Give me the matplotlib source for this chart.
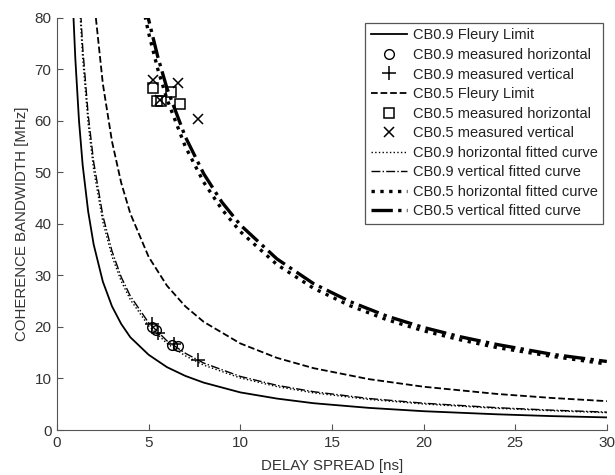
import matplotlib
matplotlib.use("Agg")

import matplotlib.pyplot as plt

plt.rcParams["font.family"] = ["Liberation Sans", "DejaVu Sans"]

# curves (delay spread [ns] -> bandwidth [MHz])
fleury09_x = [0.8, 0.9, 1.0, 1.2, 1.4, 1.7, 2.0, 2.5, 3, 3.5, 4, 5, 6, 7, 8, 10, 12, 14, 17, 20, 24, 27, 30]
fleury09_y = [90, 80, 72, 60, 51.4, 42.4, 36, 28.8, 24, 20.6, 18, 14.6, 12.2, 10.5, 9.2, 7.3, 6.1, 5.2, 4.3, 3.65, 3.05, 2.7, 2.45]

fit09_x = [1.2, 1.4, 1.7, 2.0, 2.5, 3, 3.5, 4, 5, 6, 7, 8, 10, 12, 14, 17, 20, 24, 27, 30]
fit09h_y = [84.2, 72.1, 59.4, 50.5, 40.4, 33.7, 28.9, 25.3, 20.2, 16.8, 14.4, 12.6, 10.1, 8.42, 7.21, 5.94, 5.05, 4.21, 3.74, 3.37]
fit09v_y = [86.7, 74.3, 61.2, 52, 41.6, 34.7, 29.7, 26, 20.8, 17.3, 14.9, 13, 10.4, 8.67, 7.43, 6.12, 5.2, 4.33, 3.85, 3.47]

fleury05_x = [2.0, 2.5, 3, 3.5, 4, 5, 6, 7, 8, 10, 12, 14, 17, 20, 24, 27, 30]
fleury05_y = [84, 67.2, 56, 48, 42, 33.6, 28, 24, 21, 16.8, 14, 12, 9.88, 8.4, 7, 6.22, 5.6]

fit05h_x = [4.6, 5, 5.5, 6, 7, 8, 9, 10, 12, 14, 16, 18, 20, 22, 24, 27, 30]
fit05h_y = [83.7, 77, 70, 64.2, 55, 48.1, 42.8, 38.5, 32.1, 27.5, 24.1, 21.4, 19.25, 17.5, 16.0, 14.3, 12.8]
fit05v_x = [4.8, 5, 5.5, 6, 7, 8, 9, 10, 12, 14, 16, 18, 20, 22, 24, 27, 30]
fit05v_y = [82.9, 79.6, 72.4, 66.3, 56.9, 49.75, 44.2, 39.8, 33.2, 28.4, 24.9, 22.1, 19.9, 18.1, 16.6, 14.7, 13.3]

# measured points
meas09h_x = [5.2, 5.4, 6.25, 6.6]
meas09h_y = [20.0, 19.4, 16.5, 16.3]
meas09v_x = [5.2, 5.5, 6.4, 7.7]
meas09v_y = [20.5, 18.8, 16.6, 13.6]
meas05h_x = [5.25, 5.45, 5.7, 6.2, 6.7]
meas05h_y = [66.4, 63.8, 63.8, 65.6, 63.2]
meas05v_x = [5.25, 5.6, 6.6, 7.7]
meas05v_y = [68.0, 64.0, 67.4, 60.4]

fig = plt.figure(figsize=(6.15, 4.75), dpi=100)
ax = fig.add_axes([0.0927, 0.0947, 0.894, 0.868])

ax.plot(fleury09_x, fleury09_y, "-", color="black", lw=1.3, label="CB0.9 Fleury Limit")
ax.plot(meas09h_x, meas09h_y, "o", mfc="none", mec="black", ms=7, mew=1.0, label="CB0.9 measured horizontal")
ax.plot(meas09v_x, meas09v_y, "+", color="black", ms=10, mew=1.1, label="CB0.9 measured vertical")
ax.plot(fleury05_x, fleury05_y, "--", color="black", lw=1.3, label="CB0.5 Fleury Limit")
ax.plot(meas05h_x, meas05h_y, "s", mfc="none", mec="black", ms=7.5, mew=1.1, label="CB0.5 measured horizontal")
ax.plot(meas05v_x, meas05v_y, "x", color="black", ms=7.5, mew=1.1, label="CB0.5 measured vertical")
ax.plot(fit09_x, fit09h_y, ":", color="black", lw=1.0, label="CB0.9 horizontal fitted curve")
ax.plot(fit09_x, fit09v_y, "-.", color="black", lw=1.0, label="CB0.9 vertical fitted curve")
ax.plot(fit05h_x, fit05h_y, ":", color="black", lw=2.4, label="CB0.5 horizontal fitted curve")
ax.plot(fit05v_x, fit05v_y, "-.", color="black", lw=2.4, label="CB0.5 vertical fitted curve")

ax.set_xlim(0, 30)
ax.set_ylim(0, 80)
ax.set_xticks([0, 5, 10, 15, 20, 25, 30])
ax.set_yticks([0, 10, 20, 30, 40, 50, 60, 70, 80])
ax.spines["top"].set_visible(False)
ax.spines["right"].set_visible(False)
for s in ["left", "bottom"]:
    ax.spines[s].set_color("#555555")
ax.tick_params(direction="in", length=4, colors="#555555", labelcolor="#333333", labelsize=11, pad=4)

ax.set_xlabel("DELAY SPREAD [ns]", fontsize=10.8, color="#333333", labelpad=7)
ax.set_ylabel("COHERENCE BANDWIDTH [MHz]", fontsize=10.8, color="#333333", labelpad=4)

leg = ax.legend(loc="upper right", bbox_to_anchor=(0.9935, 0.988), fontsize=10.5,
                frameon=True, fancybox=False, edgecolor="#555555", framealpha=1,
                handlelength=2.5, labelspacing=0.38, borderpad=0.4, handletextpad=0.35,
                borderaxespad=0)
leg.get_frame().set_linewidth(0.9)
for t in leg.get_texts():
    t.set_color("#222222")

fig.savefig("out.png", dpi=100)
